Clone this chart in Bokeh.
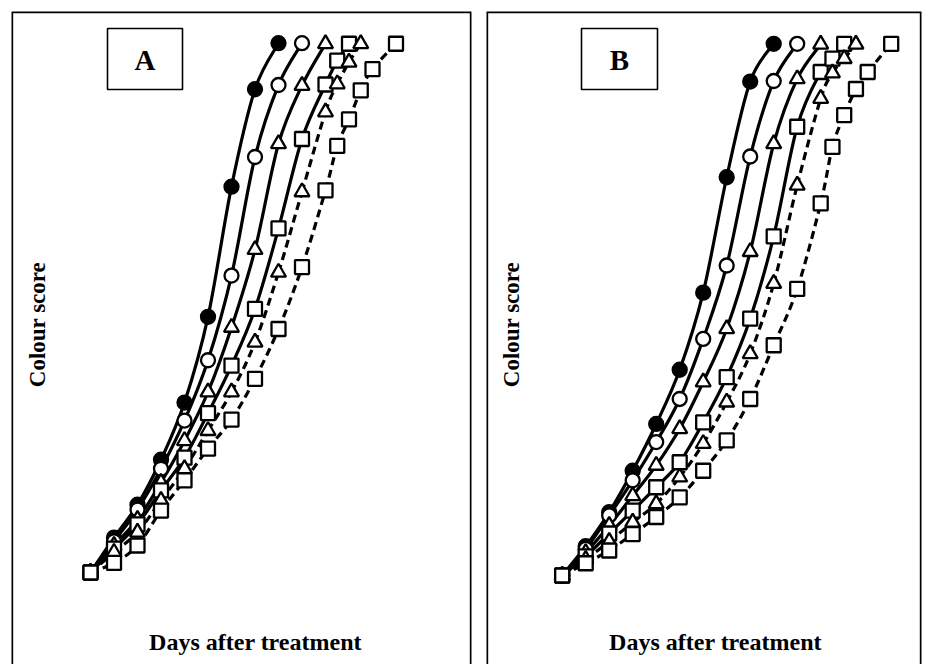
import math
from bokeh.plotting import figure
from bokeh.layouts import row
from bokeh.models import Range1d, Label, BoxAnnotation
from bokeh.embed import file_html
from bokeh.resources import INLINE

# ---------------- Panel A data (days after treatment, colour score 0-100) -------------
a_fc_days = [0, 1, 2, 3, 4, 5, 6, 7, 8]
a_fc_score = [0, 6.6, 12.8, 21.3, 32.1, 48.3, 72.9, 91.3, 100]
a_oc_days = [0, 1, 2, 3, 4, 5, 6, 7, 8, 9]
a_oc_score = [0, 5.9, 11.9, 19.6, 28.7, 40.1, 56.1, 78.5, 92.1, 100]
a_st_days = [0, 1, 2, 3, 4, 5, 6, 7, 8, 9, 10]
a_st_score = [0, 5.1, 10.0, 17.0, 24.9, 34.1, 46.3, 61.0, 81.0, 92.0, 99.9]
a_ss_days = [0, 1, 2, 3, 4, 5, 6, 7, 8, 9, 10, 10.5, 11]
a_ss_score = [0, 4.5, 9.1, 15.5, 21.7, 30.1, 39.1, 49.8, 65.0, 81.9, 92.2, 96.7, 99.9]
a_dt_days = [0, 1, 2, 3, 4, 5, 6, 7, 8, 9, 10, 10.5, 11, 11.5]
a_dt_score = [0, 3.8, 7.6, 13.6, 19.6, 26.8, 34.1, 43.5, 56.7, 71.9, 87.0, 92.3, 96.4, 99.9]
a_ds_days = [0, 1, 2, 3, 4, 5, 6, 7, 8, 9, 10, 10.5, 11, 11.5, 12, 13]
a_ds_score = [0, 1.8, 5.1, 11.7, 17.4, 23.4, 28.9, 36.6, 46.0, 57.7, 72.2, 80.6, 85.6, 91.1, 95.1, 99.9]

# ---------------- Panel B data --------------------------------------------------------
b_fc_days = [0, 1, 2, 3, 4, 5, 6, 7, 8, 9]
b_fc_score = [0, 5.5, 11.9, 19.7, 28.5, 38.7, 53.2, 74.9, 92.9, 100]
b_oc_days = [0, 1, 2, 3, 4, 5, 6, 7, 8, 9, 10]
b_oc_score = [0, 5.0, 11.3, 17.9, 25.1, 33.2, 44.5, 58.3, 78.8, 93.0, 100]
b_st_days = [0, 1, 2, 3, 4, 5, 6, 7, 8, 9, 10, 11]
b_st_score = [0, 4.3, 9.4, 15.0, 20.7, 27.6, 36.4, 46.4, 60.9, 81.2, 93.4, 99.9]
b_ss_days = [0, 1, 2, 3, 4, 5, 6, 7, 8, 9, 10, 11, 11.5, 12]
b_ss_score = [0, 3.6, 7.9, 12.2, 16.6, 21.3, 28.8, 37.3, 48.3, 63.8, 84.4, 94.7, 97.2, 100]
b_dt_days = [0, 1, 2, 3, 4, 5, 6, 7, 8, 9, 10, 11, 11.5, 12, 12.5]
b_dt_score = [0, 3.0, 6.4, 10.0, 13.5, 18.5, 24.8, 32.6, 41.7, 54.9, 73.4, 89.7, 94.5, 97.2, 99.9]
b_ds_days = [0, 1, 2, 3, 4, 5, 6, 7, 8, 9, 10, 11, 11.5, 12, 12.5, 13, 14]
b_ds_score = [0, 2.3, 4.7, 7.8, 11.0, 14.7, 19.7, 25.4, 33.2, 43.3, 53.9, 70.0, 80.6, 86.6, 91.5, 94.7, 100]

panel_labels = ["A", "B"]
x_title = "Days after treatment"
y_title = "Colour score"

FONT = "Liberation Serif"

STYLES = [  # marker, filled, dashed
    ("circle", True, False),
    ("circle", False, False),
    ("triangle", False, False),
    ("square", False, False),
    ("triangle", False, True),
    ("square", False, True),
]
SIZES = {"circle": 14, "triangle": 15, "square": 14}


def bezier_parts(xs, ys):
    n = len(xs)
    out = {k: [] for k in ("x0", "y0", "x1", "y1", "cx0", "cy0", "cx1", "cy1")}
    for i in range(n - 1):
        im = max(i - 1, 0)
        ip2 = min(i + 2, n - 1)
        out["x0"].append(xs[i]); out["y0"].append(ys[i])
        out["x1"].append(xs[i + 1]); out["y1"].append(ys[i + 1])
        out["cx0"].append(xs[i] + (xs[i + 1] - xs[im]) / 6.0)
        out["cy0"].append(ys[i] + (ys[i + 1] - ys[im]) / 6.0)
        out["cx1"].append(xs[i + 1] - (xs[ip2] - xs[i]) / 6.0)
        out["cy1"].append(ys[i + 1] - (ys[ip2] - ys[i]) / 6.0)
    return out


def make_panel(series, label, xr, yr, px2x, py2y, box_px, ylab_px, xlab_px,
               width, mbl, mbr):
    p = figure(width=width, height=664, output_backend="svg", toolbar_location=None,
               x_range=Range1d(*xr), y_range=Range1d(*yr),
               x_axis_location=None, y_axis_location=None,
               min_border_left=mbl, min_border_right=mbr,
               min_border_top=11, min_border_bottom=0)
    p.grid.visible = False
    p.outline_line_color = None
    p.background_fill_color = "white"
    p.border_fill_color = "white"

    # panel border: open at the bottom (runs off the page); clipped to frame, so
    # the visible half of the stroke is about 1.7 px
    p.add_layout(BoxAnnotation(left=xr[0], right=xr[1], top=yr[1],
                               bottom=yr[0] - 0.2 * (yr[1] - yr[0]),
                               fill_alpha=0.0, line_color="black", line_alpha=1.0,
                               line_width=3.4))

    # lines first
    for (days, score), (mk, filled, dashed) in zip(series, STYLES):
        bz = bezier_parts(days, score)
        p.bezier(line_color="black", line_width=3.2,
                 line_dash="8 5" if dashed else "solid", **bz)
    # markers on top
    for (days, score), (mk, filled, dashed) in zip(series, STYLES):
        p.scatter(days, score, marker=mk, size=SIZES[mk],
                  fill_color="black" if filled else "white",
                  line_color="black", line_width=2.3)

    # panel letter box
    l, t, r, b = box_px
    p.add_layout(BoxAnnotation(left=px2x(l), right=px2x(r), top=py2y(t), bottom=py2y(b),
                               fill_color="white", fill_alpha=1.0,
                               line_color="black", line_alpha=1.0, line_width=1.6))
    p.add_layout(Label(x=px2x((l + r) / 2), y=py2y((t + b) / 2 + 1), text=label,
                       text_font=FONT, text_font_style="bold", text_font_size="29px",
                       text_align="center", text_baseline="middle", text_color="black"))
    p.add_layout(Label(x=px2x(ylab_px[0]), y=py2y(ylab_px[1]), text=y_title,
                       angle=math.pi / 2, text_font=FONT, text_font_style="bold",
                       text_font_size="23px", text_align="center",
                       text_baseline="middle", text_color="black"))
    p.add_layout(Label(x=px2x(xlab_px[0]), y=py2y(xlab_px[1]), text=x_title,
                       text_font=FONT, text_font_style="bold", text_font_size="24px",
                       text_align="center", text_baseline="middle", text_color="black"))
    return p


series_a = [(a_fc_days, a_fc_score), (a_oc_days, a_oc_score), (a_st_days, a_st_score),
            (a_ss_days, a_ss_score), (a_dt_days, a_dt_score), (a_ds_days, a_ds_score)]
series_b = [(b_fc_days, b_fc_score), (b_oc_days, b_oc_score), (b_st_days, b_st_score),
            (b_ss_days, b_ss_score), (b_dt_days, b_dt_score), (b_ds_days, b_ds_score)]

# page-pixel <-> data mapping for each panel
ax = lambda px: (px - 90.0) / 23.5
ay = lambda py: (572.0 - py) / 5.293
bx = lambda px: (px - 561.7) / 23.5
by = lambda py: (575.0 - py) / 5.317

pA = make_panel(series_a, panel_labels[0],
                (ax(11), ax(471)), (ay(664), ay(11)), ax, ay,
                (107, 28, 182, 89), (37, 324), (255, 641),
                width=486, mbl=11, mbr=15)
pB = make_panel(series_b, panel_labels[1],
                (bx(486), bx(921)), (by(664), by(11)), bx, by,
                (581, 28, 657, 89), (511, 324), (715, 641),
                width=436, mbl=0, mbr=1)

layout = row(pA, pB)
open("out.html", "w").write(file_html(layout, INLINE))
